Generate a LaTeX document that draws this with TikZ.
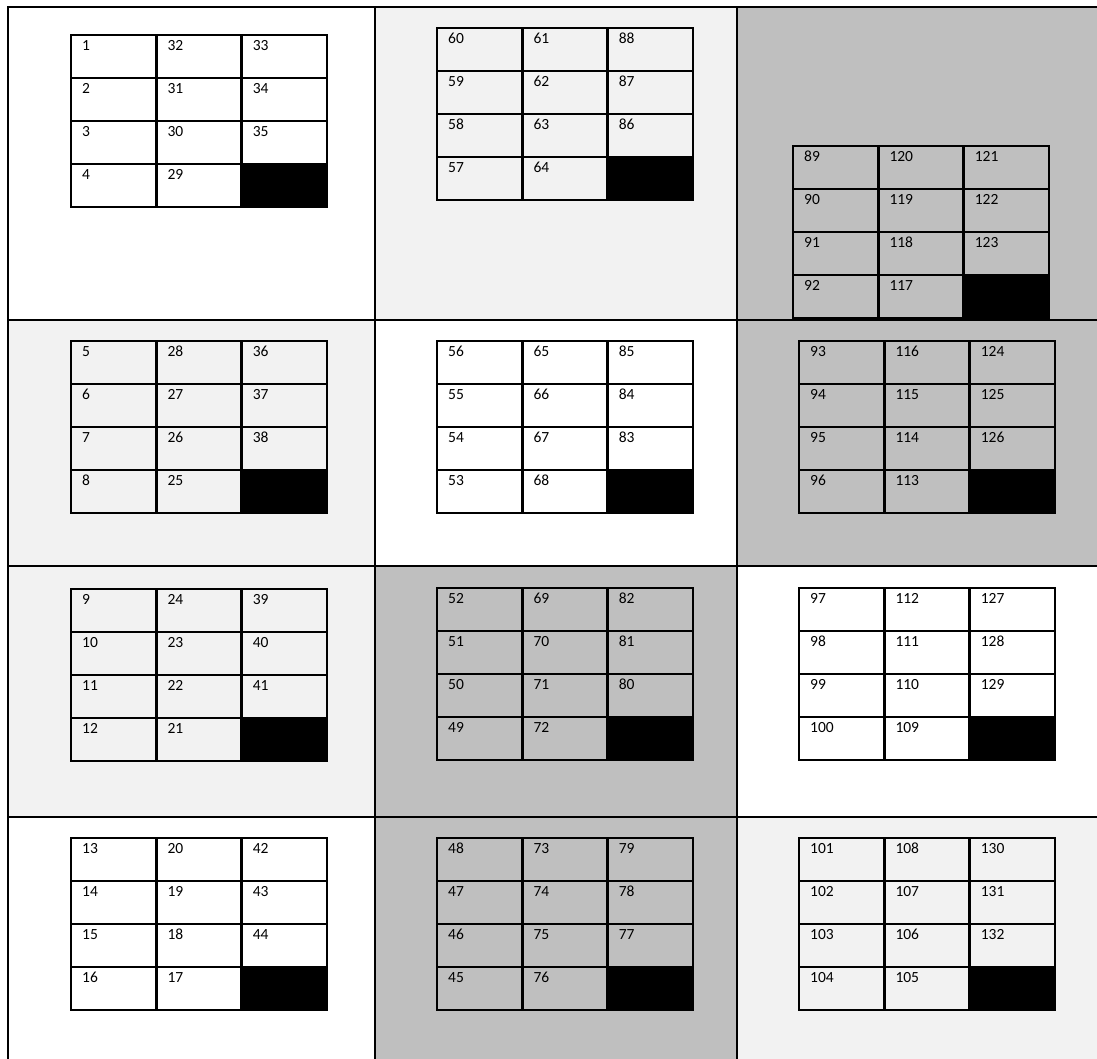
\documentclass[tikz,border=0pt]{standalone}
\usepackage{fontspec}
\setmainfont{Carlito}
\definecolor{paleGray}{HTML}{F2F2F2}
\definecolor{midGray}{HTML}{BFBFBF}

\begin{document}
\begin{tikzpicture}[x=1pt,y=-1pt]
  \tikzstyle{panel}=[draw=black,line width=2.2pt]
  \tikzstyle{cell}=[rectangle,draw=black,line width=2.4pt,minimum width=85.3pt,minimum height=43pt,inner sep=0pt,outer sep=0pt,anchor=north west]
  \tikzstyle{num}=[anchor=base west,inner sep=0pt,font=\fontsize{15.5}{17}\selectfont]
  \clip (0,0) rectangle (1097,1059);
  \fill[white] (0,0) rectangle (1097,1059);
  % panels
  \foreach \x/\xx/\y/\yy/\col in {8/375/7/320/white,375/737/7/320/paleGray,737/1100/7/320/midGray,
      8/375/320/566/paleGray,375/737/320/566/white,737/1100/320/566/midGray,
      8/375/566/817/paleGray,375/737/566/817/midGray,737/1100/566/817/white,
      8/375/817/1062/white,375/737/817/1062/midGray,737/1100/817/1062/paleGray}
    \filldraw[panel,fill=\col] (\x,\y) rectangle (\xx,\yy);
  % tables
  \foreach \name/\x/\y/\col/\nums in {
      A/71/35/white/{1,32,33,2,31,34,3,30,35,4,29},
      B/437/28/paleGray/{60,61,88,59,62,87,58,63,86,57,64},
      C/793/146/midGray/{89,120,121,90,119,122,91,118,123,92,117},
      D/71/341/paleGray/{5,28,36,6,27,37,7,26,38,8,25},
      E/437/341/white/{56,65,85,55,66,84,54,67,83,53,68},
      F/799/341/midGray/{93,116,124,94,115,125,95,114,126,96,113},
      G/71/589/paleGray/{9,24,39,10,23,40,11,22,41,12,21},
      H/437/588/midGray/{52,69,82,51,70,81,50,71,80,49,72},
      I/799/588/white/{97,112,127,98,111,128,99,110,129,100,109},
      J/71/838/white/{13,20,42,14,19,43,15,18,44,16,17},
      K/437/838/midGray/{48,73,79,47,74,78,46,75,77,45,76},
      L/799/838/paleGray/{101,108,130,102,107,131,103,106,132,104,105}}
  {
    \foreach \n [count=\i from 0] in \nums {
      \pgfmathtruncatemacro{\rr}{\i/3}
      \pgfmathtruncatemacro{\cc}{\i-3*\rr}
      \node[cell,fill=\col] (\name-\i) at (\x+\cc*85.3,\y+\rr*43) {};
      \node[num] (\name-\i-lab) at ([shift={(11pt,-15.5pt)}]\name-\i.north west) {\n};
    }
    \node[cell,fill=black] (\name-11) at (\x+2*85.3,\y+3*43) {};
  }
\end{tikzpicture}
\end{document}
